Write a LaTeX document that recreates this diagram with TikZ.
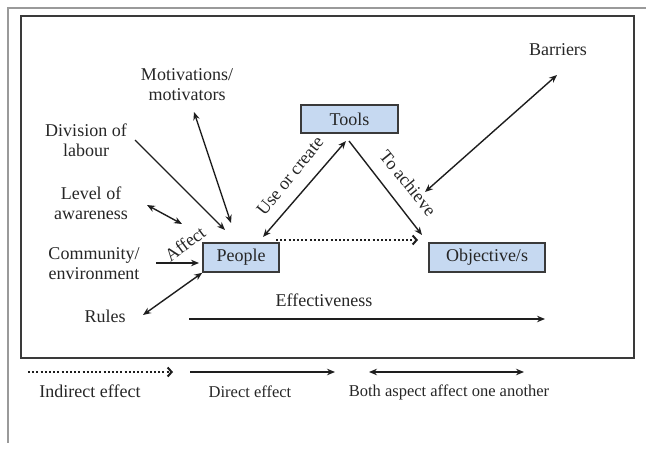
\documentclass[tikz,border=0pt]{standalone}
\usepackage{fontspec}
\setmainfont{Liberation Serif}
\usetikzlibrary{arrows.meta}
\definecolor{txt}{HTML}{262626}
\definecolor{boxfill}{HTML}{C6D9F1}
\definecolor{boxline}{HTML}{3A3A3A}
\definecolor{arrc}{HTML}{1E1E1E}
\definecolor{framec}{HTML}{9A9A9A}
\begin{document}
\begin{tikzpicture}[x=1pt,y=-1pt,
  lbl/.style={font=\fontsize{18}{20}\selectfont, text=txt, align=center, inner sep=0pt},
  slbl/.style={font=\fontsize{16.5}{20}\selectfont, text=txt, align=center, inner sep=0pt},
  box/.style={draw=boxline, fill=boxfill, line width=1.6pt, inner sep=0pt,
    font=\fontsize{18}{20}\selectfont, text=txt},
  arr/.style={line width=1.4pt, draw=arrc, -{Stealth[length=8pt,width=6.5pt]}},
  darr/.style={line width=1.4pt, draw=arrc, {Stealth[length=8pt,width=6.5pt]}-{Stealth[length=8pt,width=6.5pt]}},
  dotarr/.style={line width=2pt, draw=arrc, dash pattern=on 2pt off 2.2pt,
    -{Straight Barb[length=4pt,width=9pt,line width=2pt]}}]
\useasboundingbox (0,0) rectangle (646,450);
% frames
\draw[framec, line width=1.4pt] (646,8) -- (8,8) -- (8,443);
\draw[boxline, line width=2.2pt] (21,16) rectangle (634,358);
% boxes
\node[box, minimum width=97pt, minimum height=28pt] (tools) at (349.5,119) {Tools};
\node[box, minimum width=76pt, minimum height=29pt] (people) at (241,257.5) {People};
\node[box, minimum width=116pt, minimum height=29pt] (obj) at (487,257.5) {Objective/s};
% labels
\node[lbl] (barriers) at (558,50) {Barriers};
\node[lbl] (motiv) at (187,85) {Motivations/\\motivators};
\node[lbl] (div) at (86,140) {Division of\\labour};
\node[lbl] (aware) at (91,203) {Level of\\awareness};
\node[lbl] (comm) at (94,264) {Community/\\environment};
\node[lbl] (rules) at (105,316) {Rules};
\node[lbl] (effect) at (324,300) {Effectiveness};
\node[lbl, rotate=37] (affect) at (185,244) {Affect};
\node[lbl, rotate=51] (usecreate) at (290,176) {Use or create};
\node[lbl, rotate=-51] (achieve) at (408,183) {To achieve};
% connector end points
\coordinate (divE) at (135,140);
\coordinate (divP) at (225,230);
\coordinate (motE) at (194,112);
\coordinate (motP) at (231,223);
\coordinate (awE) at (147,205);
\coordinate (awP) at (182,224);
\coordinate (comE) at (156,263);
\coordinate (comP) at (199,263);
\coordinate (rulE) at (143,315);
\coordinate (ucP) at (263,237);
\coordinate (ucT) at (346,141);
\coordinate (taT) at (349,141);
\coordinate (taO) at (422,235);
\coordinate (dotP) at (276,240);
\coordinate (dotO) at (418,240);
\coordinate (barE) at (557,75);
\coordinate (barO) at (425,192);
\coordinate (effA) at (189,319);
\coordinate (effB) at (545,319);
% connectors
\draw[arr] (divE) -- (divP);
\draw[darr] (motE) -- (motP);
\draw[darr] (awE) -- (awP);
\draw[arr] (comE) -- (comP);
\draw[darr] (rulE) -- (people.south west);
\draw[darr] (ucP) -- (ucT);
\draw[arr] (taT) -- (taO);
\draw[dotarr] (dotP) -- (dotO);
\draw[darr] (barE) -- (barO);
\draw[arr] (effA) -- (effB);
% legend
\coordinate (l1a) at (28,372);
\coordinate (l1b) at (173,372);
\coordinate (l2a) at (190,372);
\coordinate (l2b) at (335,372);
\coordinate (l3a) at (369,372);
\coordinate (l3b) at (524,372);
\draw[dotarr] (l1a) -- (l1b);
\draw[arr] (l2a) -- (l2b);
\draw[darr] (l3a) -- (l3b);
\node[lbl] (leg1) at (90,391) {Indirect effect};
\node[slbl] (leg2) at (250,392) {Direct effect};
\node[slbl] (leg3) at (449,392) {Both aspect affect one another};
\end{tikzpicture}
\end{document}
